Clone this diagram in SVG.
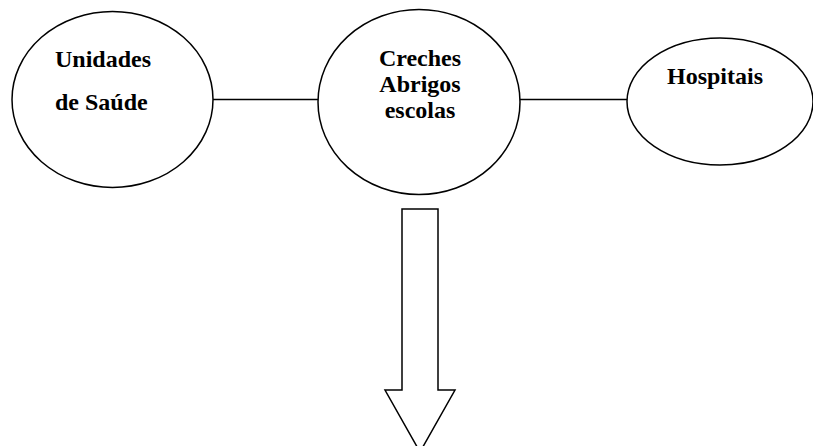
<svg xmlns="http://www.w3.org/2000/svg" width="813" height="446" viewBox="0 0 813 446">
<style>
.n{fill:#fff;stroke:#000;stroke-width:1.5}
.c{stroke:#000;stroke-width:1.5;fill:none}
.t{font-family:"Liberation Serif","Times New Roman",serif;font-weight:bold;font-size:24px;fill:#000}
</style>
<rect width="813" height="446" fill="#fff"/>
<g id="connectors">
<line class="c" x1="213" y1="99.5" x2="318" y2="99.5"/>
<line class="c" x1="520" y1="99.5" x2="627" y2="99.5"/>
<polygon class="n" points="402,209 438,209 438,390 455,390 420,452 385,390 402,390"/>
</g>
<g id="unidades">
<ellipse class="n" cx="112.5" cy="99.5" rx="100.5" ry="88"/>
<text class="t" x="55" y="67">Unidades</text>
<text class="t" x="55" y="110">de Saúde</text>
</g>
<g id="creches">
<ellipse class="n" cx="419" cy="102" rx="101" ry="92.5"/>
<text class="t" x="420" y="66" text-anchor="middle">Creches</text>
<text class="t" x="420" y="92" text-anchor="middle">Abrigos</text>
<text class="t" x="420" y="118" text-anchor="middle">escolas</text>
</g>
<g id="hospitais">
<ellipse class="n" cx="720" cy="101.5" rx="93" ry="63.5"/>
<text class="t" x="667" y="84">Hospitais</text>
</g>
</svg>
